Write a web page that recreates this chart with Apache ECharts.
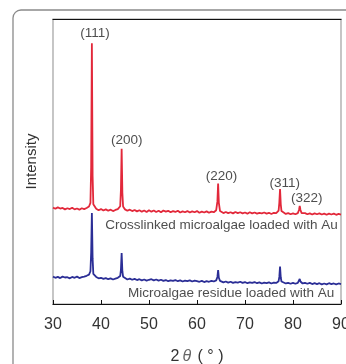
<!DOCTYPE html>
<html><head><meta charset="utf-8">
<script src="https://cdn.jsdelivr.net/npm/echarts@6/dist/echarts.min.js"></script>
<style>html,body{margin:0;padding:0;background:#fff}#c{width:346px;height:364px}</style>
</head><body><div id="c"></div>
<script>
// 2θ grid (degrees)
const twoTheta = [30,30.5,31,31.5,32,32.5,33,33.5,34,34.5,35,35.5,36,36.5,37,37.5,37.8,37.95,38.1,38.25,38.4,39,39.5,40,40.5,41,41.5,42,42.5,43,43.5,44,44.15,44.3,44.45,44.6,45,45.5,46,46.5,47,47.5,48,48.5,49,49.5,50,50.5,51,51.5,52,52.5,53,53.5,54,54.5,55,55.5,56,56.5,57,57.5,58,58.5,59,59.5,60,60.5,61,61.5,62,62.5,63,63.5,64,64.25,64.4,64.55,64.8,65,65.5,66,66.5,67,67.5,68,68.5,69,69.5,70,70.5,71,71.5,72,72.5,73,73.5,74,74.5,75,75.5,76,76.5,77,77.15,77.3,77.45,77.6,78,78.5,79,79.5,80,80.5,81,81.25,81.4,81.55,81.8,82,82.5,83,83.5,84,84.5,85,85.5,86,86.5,87,87.5,88,88.5,89,89.5,90];
// Crosslinked microalgae loaded with Au (offset intensity, a.u.)
const crosslinked = [33.8,33.4,33.9,33.5,33.7,33.2,33.6,33.3,33.8,33.2,33.5,33.1,33.6,33.3,33.7,34.2,35.5,48,91.5,45,35.0,33.4,32.9,33.3,32.8,33.2,32.7,33.1,32.6,33.0,33.3,34.3,40,54.5,39,34.2,33.2,32.7,33.1,32.6,33.0,32.5,32.9,32.4,32.8,32.3,32.9,32.4,32.8,32.3,32.7,32.2,32.8,32.4,32.7,32.2,32.6,32.3,32.7,32.1,32.5,32.2,32.6,32.1,32.5,32.2,32.6,32.0,32.4,32.1,32.5,32.0,32.4,32.2,32.9,36,42.3,35.5,32.6,32.2,31.9,32.3,31.9,32.2,31.8,32.3,31.9,32.2,31.8,32.1,31.7,32.2,31.8,32.1,31.7,32.0,31.8,32.1,31.7,32.0,31.6,32.0,31.9,32.8,35.5,40.3,35,32.6,32.0,31.6,31.9,31.5,31.8,31.5,31.9,33,34.4,33.0,31.9,31.6,31.9,31.5,31.8,31.4,31.8,31.5,31.8,31.4,31.7,31.3,31.7,31.4,31.7,31.3,31.6,31.4];
// Microalgae residue loaded with Au
const residue = [9.6,9.2,9.5,9.1,9.6,9.3,9.4,9.0,9.5,9.2,9.6,9.1,9.4,9.6,9.9,10.3,11.5,18,31.9,16,10.6,9.5,9.0,9.2,8.8,9.1,8.7,9.0,8.6,8.9,9.2,9.8,12,17.9,11.5,9.6,9.0,8.6,8.9,8.5,8.8,8.4,8.7,8.3,8.6,8.2,8.5,8.7,8.3,8.6,8.2,8.5,8.1,8.4,8.0,8.3,8.1,8.4,8.0,8.3,7.9,8.2,8.0,8.3,7.9,8.2,8.0,7.8,8.1,7.7,8.0,7.8,8.1,7.9,8.3,9.5,11.9,9.2,8.1,7.8,7.6,7.9,7.5,7.8,7.4,7.7,7.5,7.8,7.4,7.7,7.3,7.6,7.4,7.7,7.3,7.6,7.2,7.5,7.3,7.6,7.2,7.5,7.4,8.0,9.5,13.1,9.3,7.9,7.5,7.2,7.4,7.1,7.4,7.1,7.4,7.9,8.8,7.9,7.4,7.2,7.4,7.1,7.4,7.0,7.3,7.0,7.3,6.9,7.2,6.9,7.3,7.0,7.2,6.9,7.2,7.0];
// Peak annotations
const peakLabels = ['(111)','(200)','(220)','(311)','(322)'];
const peakLabelX = [38.75,45.35,65.1,78.3,82.85];
const peakLabelY = [95.0,57.5,44.7,42.5,37.1];
// Sample names
const sampleNames = ['Crosslinked microalgae loaded with Au','Microalgae residue loaded with Au'];
const sampleLabelX = [65.1,67.1];
const sampleLabelY = [27.7,3.6];
// Axis
const xTicks = [30,40,50,60,70,80,90];

const zip = (xs, ys) => xs.map((x,i)=>[x, ys[i]]);
const FONT = 'Liberation Sans, Arial, sans-serif';

const chart = echarts.init(document.getElementById('c'));
chart.setOption({
  animation:false,
  backgroundColor:'#fff',
  graphic:[{type:'rect',shape:{x:13,y:10,width:400,height:420,r:8},style:{fill:'none',stroke:'#8a8a8a',lineWidth:1.3},silent:true,z:-1}],
  grid:{left:53,top:19,width:288,height:285,show:true,borderColor:'#a0a0a0',borderWidth:1.2,backgroundColor:'transparent',
    outerBoundsMode:'none',containLabel:false},
  xAxis:[{type:'value',min:xTicks[0],max:xTicks[xTicks.length-1],interval:10,
    axisLine:{lineStyle:{color:'#111',width:1.2}},
    axisTick:{inside:true,length:4,lineStyle:{color:'#111'}},
    axisLabel:{fontSize:16,color:'#333',fontFamily:FONT,margin:13},
    splitLine:{show:false},
    name:'2{t|θ} ( ° )',nameLocation:'middle',nameGap:45,
    nameTextStyle:{fontSize:16,color:'#333',fontFamily:FONT,
      rich:{t:{fontSize:16,fontStyle:'italic',color:'#666',fontFamily:FONT,padding:[0,2,0,3]}}},
  },{type:'value',position:'top',min:30,max:90,interval:10,
    axisLine:{lineStyle:{color:'#111',width:1.2}},axisTick:{show:false},axisLabel:{show:false},splitLine:{show:false}}],
  yAxis:{type:'value',min:0,max:100,axisLine:{show:false},axisTick:{show:false},axisLabel:{show:false},splitLine:{show:false},
    name:'Intensity',nameLocation:'middle',nameGap:14,nameTextStyle:{fontSize:15,color:'#333',fontFamily:FONT}},
  series:[
    {type:'line',data:zip(twoTheta,crosslinked),showSymbol:false,lineStyle:{color:'#e2283a',width:1.8},z:3},
    {type:'line',data:zip(twoTheta,residue),showSymbol:false,lineStyle:{color:'#2b2e96',width:1.8},z:2},
    {type:'scatter',symbolSize:1,itemStyle:{color:'rgba(0,0,0,0)'},z:5,
      data:peakLabels.map((t,i)=>({value:[peakLabelX[i],peakLabelY[i]],name:t})),
      label:{show:true,position:'inside',formatter:p=>p.name,fontSize:13.5,color:'#222',fontFamily:FONT}},
    {type:'scatter',symbolSize:1,itemStyle:{color:'rgba(0,0,0,0)'},z:5,
      data:sampleNames.map((t,i)=>({value:[sampleLabelX[i],sampleLabelY[i]],name:t})),
      label:{show:true,position:'inside',formatter:p=>p.name,fontSize:13.5,color:'#222',fontFamily:FONT}}
  ]
});
</script></body></html>
